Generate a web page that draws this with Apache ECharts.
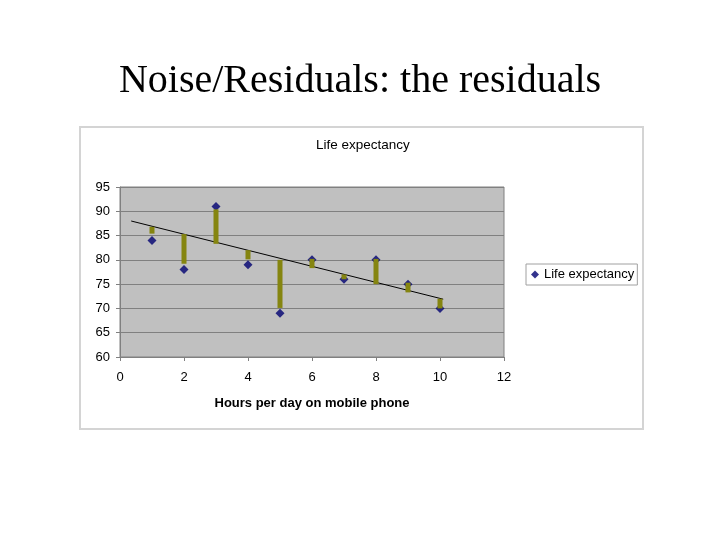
<!DOCTYPE html>
<html>
<head>
<meta charset="utf-8">
<script src="https://cdn.jsdelivr.net/npm/echarts@6/dist/echarts.min.js"></script>
<style>
    html, body { margin: 0; padding: 0; background: #fff; }
    #main { width: 720px; height: 540px; }
</style>
</head>
<body>
<div id="main"></div>
<script>
// data
const hours = [1, 2, 3, 4, 5, 6, 7, 8, 9, 10]
const lifeExpectancy = [84, 78, 91, 79, 69, 80, 76, 80, 75, 70]
// olive residual bars (bottom / top)
const residLow = [85.4, 79.2, 83.3, 80.1, 70.1, 78.3, 76.0, 75.0, 73.3, 70.0]
const residHigh = [86.8, 85.3, 90.4, 82.0, 80.0, 80.2, 77.0, 80.2, 75.3, 72.0]
// fitted line end points
const trendX = [0.35, 10.1]
const trendY = [88, 71.9]
const xTicks = [0, 2, 4, 6, 8, 10, 12]
const yTicks = [60, 65, 70, 75, 80, 85, 90, 95]

const myChart = echarts.init(document.getElementById('main'))

const option = {
    animation: false,
    backgroundColor: '#fff',
    title: [
        {
            text: 'Noise/Residuals: the residuals',
            left: 'center',
            top: 56,
            textStyle: {
                fontFamily: 'Liberation Serif',
                fontWeight: 'normal',
                fontSize: 40,
                color: '#000'
            }
        },
        {
            text: 'Life expectancy',
            left: 316,
            top: 138,
            padding: 0,
            textStyle: {
                fontFamily: 'Liberation Sans',
                fontWeight: 'normal',
                fontSize: 13.5,
                color: '#000'
            }
        }
    ],
    graphic: [
        {
            type: 'rect',
            shape: { x: 80, y: 127, width: 563, height: 302 },
            style: { fill: 'none', stroke: '#d4d4d4', lineWidth: 2 },
            z: -1
        }
    ],
    legend: {
        data: [{ name: 'Life expectancy', icon: 'diamond' }],
        left: 526,
        top: 264,
        itemWidth: 8,
        itemHeight: 8,
        itemGap: 4,
        padding: [4, 3, 4, 5],
        borderColor: '#a0a0a0',
        borderWidth: 1,
        backgroundColor: '#fff',
        textStyle: {
            fontFamily: 'Liberation Sans',
            fontSize: 13,
            color: '#000'
        }
    },
    grid: {
        left: 120,
        right: 216,
        top: 187,
        bottom: 183,
        show: true,
        backgroundColor: '#c0c0c0',
        borderColor: '#808080',
        borderWidth: 1
    },
    xAxis: {
        type: 'value',
        min: xTicks[0],
        max: xTicks[xTicks.length - 1],
        interval: 2,
        name: 'Hours per day on mobile phone',
        nameLocation: 'middle',
        nameGap: 40,
        nameTextStyle: {
            fontFamily: 'Liberation Sans',
            fontWeight: 'bold',
            fontSize: 13,
            color: '#000'
        },
        axisLine: { lineStyle: { color: '#808080' } },
        axisTick: { show: true, length: 4, lineStyle: { color: '#808080' } },
        axisLabel: {
            margin: 14,
            fontFamily: 'Liberation Sans',
            fontSize: 13,
            color: '#000'
        },
        splitLine: { show: false }
    },
    yAxis: {
        type: 'value',
        min: yTicks[0],
        max: yTicks[yTicks.length - 1],
        interval: 5,
        axisLine: { show: true, lineStyle: { color: '#808080' } },
        axisTick: { show: true, length: 4, lineStyle: { color: '#808080' } },
        axisLabel: {
            margin: 10,
            fontFamily: 'Liberation Sans',
            fontSize: 13,
            color: '#000'
        },
        splitLine: { show: true, lineStyle: { color: '#808080', width: 1 } }
    },
    series: [
        {
            name: 'Life expectancy',
            type: 'scatter',
            symbol: 'diamond',
            symbolSize: 9,
            itemStyle: { color: '#000070' },
            data: hours.map((h, i) => [h, lifeExpectancy[i]]),
            z: 2
        },
        {
            name: 'trend',
            type: 'line',
            symbol: 'none',
            lineStyle: { color: '#000', width: 1 },
            data: trendX.map((x, i) => [x, trendY[i]]),
            z: 3
        },
        {
            name: 'residuals',
            type: 'custom',
            data: hours.map((h, i) => [h, residLow[i], residHigh[i]]),
            renderItem: (params, api) => {
                const lo = api.coord([api.value(0), api.value(1)])
                const hi = api.coord([api.value(0), api.value(2)])
                return {
                    type: 'rect',
                    shape: { x: lo[0] - 2.5, y: hi[1], width: 5, height: lo[1] - hi[1] },
                    style: { fill: '#858510' }
                }
            },
            z: 4
        }
    ]
}

myChart.setOption(option)
</script>
</body>
</html>
